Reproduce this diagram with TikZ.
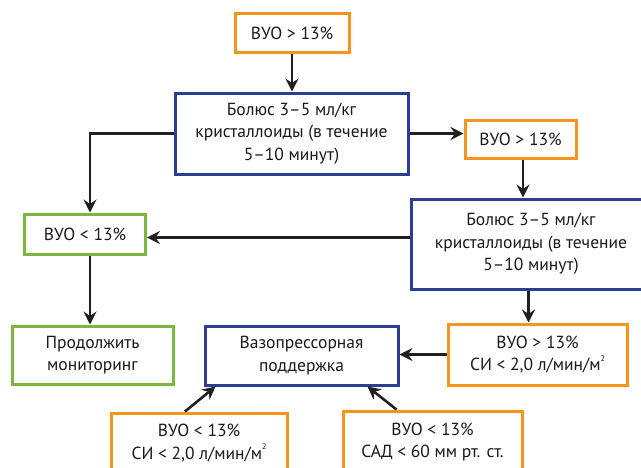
\documentclass[tikz,border=0pt]{standalone}
\usepackage{fontspec}
\setmainfont{PT Sans}
\usetikzlibrary{arrows.meta, positioning}
\definecolor{vorange}{HTML}{F7941D}
\definecolor{vblue}{HTML}{2B3E93}
\definecolor{vgreen}{HTML}{7AB640}
\definecolor{varrow}{HTML}{231F20}
\newcommand{\sqm}{м\raisebox{0.55em}{\fontsize{8}{8}\selectfont 2}}
\tikzset{
	cbox/.style={draw, line width=3pt, align=center, inner sep=0pt,
		font=\fontsize{17.5}{22.5}\selectfont, text=black!90},
	obox/.style={cbox, draw=vorange},
	bbox/.style={cbox, draw=vblue},
	gbox/.style={cbox, draw=vgreen},
	farr/.style={-{Stealth[length=13pt, width=13pt, inset=4.5pt]}, line width=2.6pt, draw=varrow}
}

\begin{document}
\begin{tikzpicture}[x=1pt, y=-1pt]
	\useasboundingbox (0,0) rectangle (641,467);
	\clip (0,0) rectangle (641,467);
	% top branch
	\node[obox, minimum width=114pt, minimum height=39pt] (vuo1) at (292,33) {ВУО > 13\%};
	\node[bbox, minimum width=233pt, minimum height=81pt] (bolus1) at (291.5,133.5)
		{Болюс 3–5 мл/кг\\кристаллоиды (в течение\\5–10 минут)};
	\node[obox, minimum width=111pt, minimum height=38pt] (vuo2) at (520.5,139.5) {ВУО > 13\%};
	\node[bbox, minimum width=240pt, minimum height=90pt] (bolus2) at (531,244)
		{Болюс 3–5 мл/кг\\кристаллоиды (в течение\\5–10 минут)};
	% green side
	\node[gbox, minimum width=121pt, minimum height=40pt] (low1) at (85,234) {ВУО < 13\%};
	\node[gbox, minimum width=161pt, minimum height=58pt] (monit) at (92.5,355)
		{Продолжить\\мониторинг};
	% vasopressors
	\node[bbox, minimum width=193pt, minimum height=59pt] (vaso) at (301.5,355.5)
		{Вазопрессорная\\поддержка};
	\node[obox, minimum width=179pt, minimum height=61pt] (high3) at (537.5,354.5)
		{ВУО > 13\%\\СИ < 2,0 л/мин/\sqm};
	\node[obox, minimum width=176pt, minimum height=60pt] (low2) at (199,443)
		{ВУО < 13\%\\СИ < 2,0 л/мин/\sqm};
	\node[obox, minimum width=179pt, minimum height=62pt] (low3) at (432.5,442)
		{ВУО < 13\%\\САД < 60 мм рт. ст.};
	% arrows
	\draw[farr] (vuo1.south) -- (vuo1.south |- bolus1.north);
	\draw[farr] (bolus1.east) -- (bolus1.east -| vuo2.west);
	\draw[farr] ([xshift=2.5pt]vuo2.south) -- ([xshift=2.5pt]vuo2.south |- bolus2.north);
	\draw[farr] (bolus1.west) -| ([xshift=5pt]low1.north);
	\draw[farr] ([yshift=-3.5pt]low1.east -| bolus2.west) -- ([yshift=-3.5pt]low1.east);
	\draw[farr] ([xshift=5pt]low1.south) -- ([xshift=5pt]low1.south |- monit.north);
	\draw[farr] ([xshift=-9pt]high3.north |- bolus2.south) -- ([xshift=-9pt]high3.north);
	\draw[farr] (high3.west) -- (high3.west -| vaso.east);
	\draw[farr] ([xshift=-14pt]low2.north) -- ([xshift=12pt]vaso.south west);
	\draw[farr] ([xshift=-36pt]low3.north) -- ([xshift=-32pt]vaso.south east);
\end{tikzpicture}
\end{document}
